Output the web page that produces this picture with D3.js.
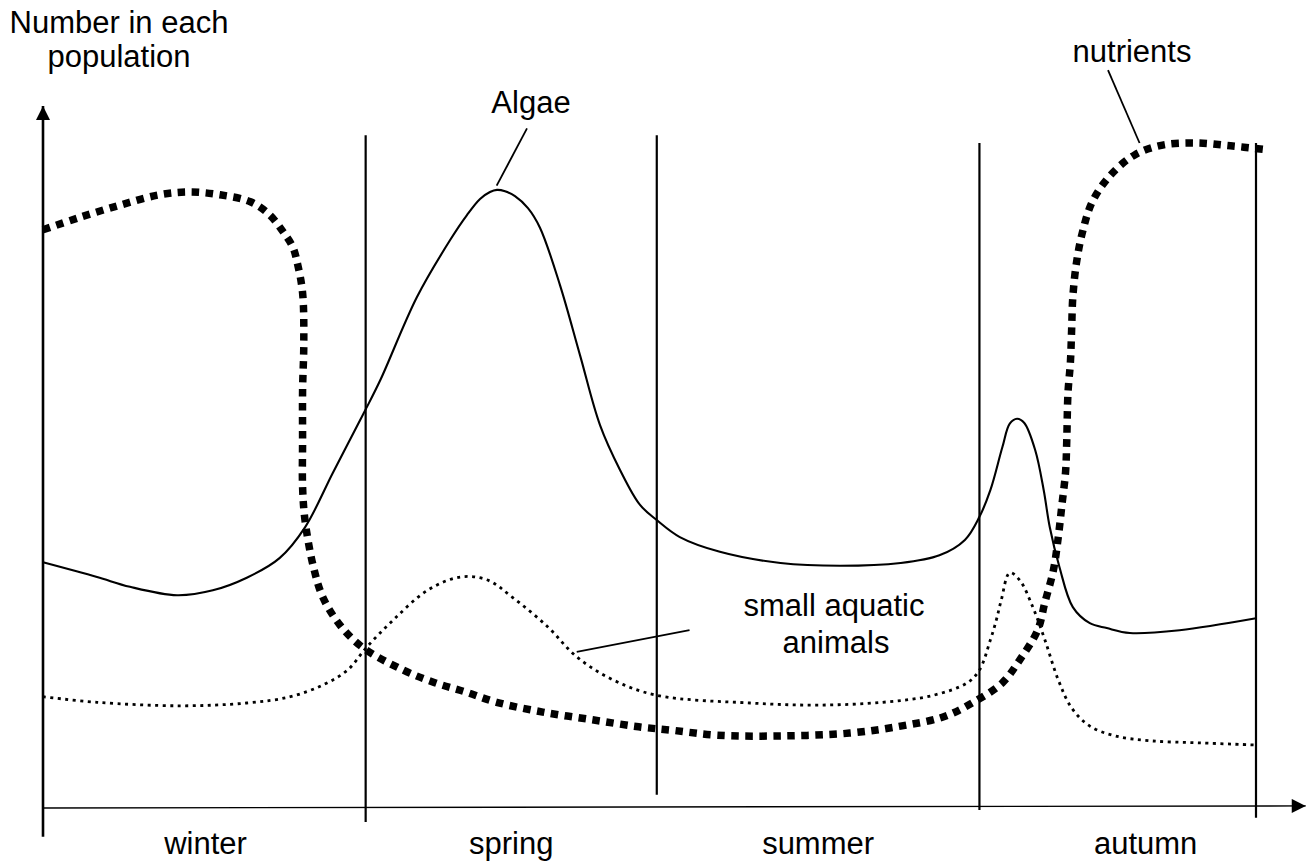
<!DOCTYPE html>
<html>
<head>
<meta charset="utf-8">
<script src="https://cdn.jsdelivr.net/npm/d3@7"></script>
<style>
  body { margin: 0; background: #fff; }
  text { font-family: "Liberation Sans", Arial, sans-serif; font-size: 31px; fill: #000; }
</style>
</head>
<body>
<svg id="chart" width="1311" height="865"></svg>
<script>
// Time runs across the year (0 = start of winter, 100 = end of autumn);
// population sizes are relative (0..100).
const seasons = ["winter", "spring", "summer", "autumn"];
const seasonEdges = [0, 26.6, 50.6, 77.2, 100];

const algaeT = [0, 4.45, 7.17, 11.05, 14.0, 16.8, 19.5, 21.6, 23.9, 26.5, 27.8, 30.83, 33.55, 34.95, 36.03, 36.85, 37.43, 38.09, 38.91, 39.98, 40.97, 42.62, 44.27, 45.92, 47.57, 49.22, 50.62, 52.5, 55.8, 60.8, 65.7, 70.7, 73.9, 76.0, 77.2, 78.1, 79.1, 79.7, 80.3, 80.9, 81.8, 82.5, 83.0, 83.8, 84.9, 86.3, 87.7, 89.6, 93.7, 100];
const algaeN = [35.1, 33.0, 31.6, 30.4, 31.1, 32.9, 35.7, 40.1, 47.9, 56.6, 61.1, 73.0, 81.1, 84.7, 87.0, 88.0, 88.3, 88.1, 87.4, 85.7, 82.9, 74.7, 64.7, 54.7, 48.3, 43.3, 41.1, 38.7, 36.6, 35.0, 34.6, 35.0, 36.1, 38.3, 41.6, 45.4, 51.6, 54.9, 55.6, 55.0, 51.1, 45.4, 40.1, 34.4, 28.7, 26.4, 25.7, 25.0, 25.4, 27.1];

const animalsT = [0, 4.45, 11.3, 16.8, 20.4, 23.1, 25.1, 26.7, 28.9, 31.7, 34.4, 36.6, 38.7, 41.6, 44.0, 47.0, 50.6, 58.3, 63.8, 69.2, 73.4, 76.2, 77.2, 78.1, 78.6, 79.0, 79.7, 80.5, 81.6, 82.6, 83.7, 84.8, 86.3, 88.4, 91.3, 95.4, 100];
const animalsN = [15.9, 15.1, 14.6, 15.0, 15.9, 17.6, 19.7, 23.0, 26.9, 31.1, 33.0, 32.6, 30.1, 25.9, 21.6, 18.3, 16.1, 15.0, 14.7, 15.1, 16.1, 17.9, 19.7, 24.0, 26.9, 29.7, 33.6, 32.6, 28.7, 24.0, 18.3, 14.3, 11.7, 10.3, 9.6, 9.3, 9.0];

const nutrientsT = [0, 2.9, 6.3, 9.6, 12.1, 14.6, 17.1, 18.7, 19.8, 20.6, 21.0, 21.4, 21.5, 21.4, 21.4, 21.4, 21.6, 22.3, 23.1, 24.5, 26.3, 29.7, 32.3, 34.8, 37.4, 41.2, 45.3, 49.1, 51.9, 55.6, 61.0, 66.5, 70.7, 74.2, 76.7, 79.1, 80.5, 82.0, 82.6, 83.3, 83.7, 84.0, 84.3, 84.4, 84.5, 84.7, 84.8, 84.9, 85.2, 85.7, 86.5, 88.0, 90.0, 92.3, 95.1, 97.9, 100.6];
const nutrientsN = [82.6, 84.3, 86.1, 87.6, 88.0, 87.6, 86.6, 84.7, 82.3, 80.1, 77.6, 73.6, 66.4, 59.7, 52.6, 45.9, 41.1, 34.4, 30.0, 26.1, 23.0, 19.7, 17.9, 16.6, 15.1, 13.7, 12.6, 11.6, 11.1, 10.4, 10.3, 10.7, 11.7, 13.0, 15.1, 17.9, 21.1, 25.4, 29.4, 34.0, 38.7, 43.3, 48.0, 52.6, 59.3, 63.7, 68.3, 73.0, 77.9, 82.3, 86.6, 90.4, 93.3, 94.7, 95.0, 94.6, 94.1];

const svg = d3.select("#chart");
const x = d3.scaleLinear().domain([0, 100]).range([43, 1256]);
const y = d3.scaleLinear().domain([0, 100]).range([808, 108]);

const pts = (ts, ns) => ts.map((t, i) => [t, ns[i]]);
const line = d3.line().x(d => x(d[0])).y(d => y(d[1])).curve(d3.curveCatmullRom.alpha(0.5));

// arrow heads
const defs = svg.append("defs");
defs.append("marker").attr("id", "arrow")
  .attr("viewBox", "0 0 10 10").attr("refX", 10).attr("refY", 5)
  .attr("markerWidth", 15).attr("markerHeight", 14).attr("markerUnits", "userSpaceOnUse")
  .attr("orient", "auto")
  .append("path").attr("d", "M0,0 L10,5 L0,10 Z").attr("fill", "#000");

// axes
svg.append("line")
  .attr("x1", x(0)).attr("y1", y(-4.1)).attr("x2", x(0)).attr("y2", y(100.3))
  .attr("stroke", "#000").attr("stroke-width", 2.6).attr("marker-end", "url(#arrow)");
svg.append("line")
  .attr("x1", x(0)).attr("y1", y(0)).attr("x2", x(104.1)).attr("y2", y(0.3))
  .attr("stroke", "#000").attr("stroke-width", 1.4).attr("marker-end", "url(#arrow)");

// season dividers
const dividerTop = [96.1, 96.1, 95.0, 95.0];
const dividerBottom = [-2.0, 1.9, -0.3, -1.4];
svg.append("g").selectAll("line").data(seasonEdges.slice(1))
  .join("line")
  .attr("x1", d => x(d)).attr("x2", d => x(d))
  .attr("y1", (d, i) => y(dividerTop[i])).attr("y2", (d, i) => y(dividerBottom[i]))
  .attr("stroke", "#000").attr("stroke-width", 2.2);

// season names
const seasonLabelT = [13.4, 38.6, 63.9, 90.9];
svg.append("g").selectAll("text").data(seasons)
  .join("text")
  .attr("x", (d, i) => x(seasonLabelT[i])).attr("y", 854)
  .attr("text-anchor", "middle").text(d => d);

// populations
svg.append("path").datum(pts(nutrientsT, nutrientsN)).attr("d", line)
  .attr("fill", "none").attr("stroke", "#000").attr("stroke-width", 7.5)
  .attr("stroke-dasharray", "7.5 6.5");
svg.append("path").datum(pts(animalsT, animalsN)).attr("d", line)
  .attr("fill", "none").attr("stroke", "#000").attr("stroke-width", 2.8)
  .attr("stroke-dasharray", "3 4.5");
svg.append("path").datum(pts(algaeT, algaeN)).attr("d", line)
  .attr("fill", "none").attr("stroke", "#000").attr("stroke-width", 2.1);

// labels with leader lines
const leaders = [
  [[37.4, 88.9], [39.9, 97.1]],
  [[87.8, 105.4], [90.4, 95.0]],
  [[44.0, 22.3], [53.3, 25.4]]
];
svg.append("g").selectAll("line").data(leaders)
  .join("line")
  .attr("x1", d => x(d[0][0])).attr("y1", d => y(d[0][1]))
  .attr("x2", d => x(d[1][0])).attr("y2", d => y(d[1][1]))
  .attr("stroke", "#000").attr("stroke-width", 1.8);

svg.append("text").attr("x", 531).attr("y", 113).attr("text-anchor", "middle").text("Algae");
svg.append("text").attr("x", 1132).attr("y", 62).attr("text-anchor", "middle").text("nutrients");
svg.append("text").attr("x", 834).attr("y", 616).attr("text-anchor", "middle").text("small aquatic");
svg.append("text").attr("x", 836).attr("y", 653).attr("text-anchor", "middle").text("animals");

// y-axis title
svg.append("text").attr("x", 119).attr("y", 33).attr("text-anchor", "middle").text("Number in each");
svg.append("text").attr("x", 119).attr("y", 67).attr("text-anchor", "middle").text("population");
</script>
</body>
</html>
